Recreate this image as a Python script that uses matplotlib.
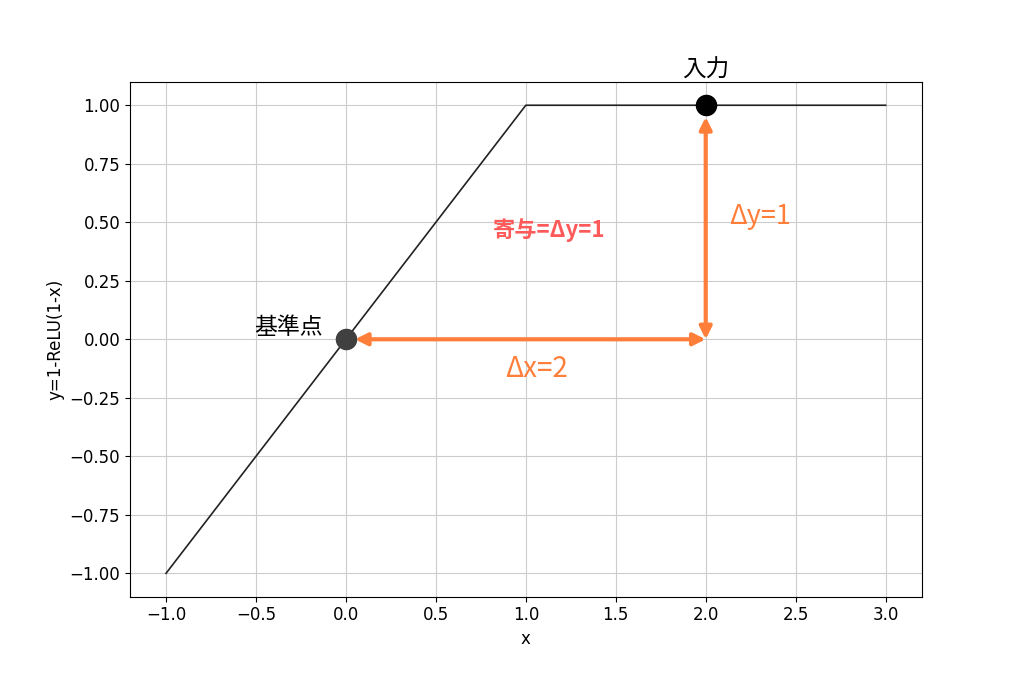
import matplotlib
matplotlib.use('Agg')
import matplotlib.pyplot as plt
import numpy as np

plt.rcParams['font.family'] = ['Noto Sans CJK JP', 'DejaVu Sans']

# data
x_vals = [-1.0, 1.0, 3.0]
y_vals = [-1.0, 1.0, 1.0]
base_pt = (0.0, 0.0)
input_pt = (2.0, 1.0)
xticks = [-1.0, -0.5, 0.0, 0.5, 1.0, 1.5, 2.0, 2.5, 3.0]
yticks = [-1.0, -0.75, -0.5, -0.25, 0.0, 0.25, 0.5, 0.75, 1.0]

orange = '#ff7f3a'

fig, ax = plt.subplots(figsize=(10.24, 6.82), dpi=100)
plt.subplots_adjust(left=0.127, right=0.9, bottom=0.125, top=0.88)

ax.plot(x_vals, y_vals, color='#222222', linewidth=1.2)
ax.plot(base_pt[0], base_pt[1], 'o', color='#404040', markersize=14.5, zorder=5)
ax.plot(input_pt[0], input_pt[1], 'o', color='black', markersize=14.5, zorder=5)

# arrows
ax.annotate('', xy=(base_pt[0] + 0.05, 0), xytext=(input_pt[0], 0),
            arrowprops=dict(arrowstyle='<|-|>', color=orange, lw=3, mutation_scale=18,
                            shrinkA=0, shrinkB=0))
ax.annotate('', xy=(input_pt[0], 0), xytext=(input_pt[0], 0.95),
            arrowprops=dict(arrowstyle='<|-|>', color=orange, lw=3, mutation_scale=18,
                            shrinkA=0, shrinkB=0))

ax.text(-0.32, 0.05, '基準点', fontsize=16.5, ha='center', va='center', color='black')
ax.text(2.0, 1.15, '入力', fontsize=17, ha='center', va='center', color='black')
ax.text(1.13, 0.465, '寄与=Δy=1', fontsize=16, fontweight='bold', ha='center', va='center',
        color='#ff5a5a')
ax.text(2.3, 0.525, 'Δy=1', fontsize=19.5, ha='center', va='center', color=orange)
ax.text(1.06, -0.125, 'Δx=2', fontsize=20, ha='center', va='center', color=orange)

ax.set_xticks(xticks)
ax.set_yticks(yticks)
ax.set_xticklabels([f'{v:.1f}'.replace('-', '\u2212') for v in xticks], fontsize=12,
                   family='DejaVu Sans')
ax.set_yticklabels([f'{v:.2f}'.replace('-', '\u2212') for v in yticks], fontsize=12,
                   family='DejaVu Sans')
ax.set_xlabel('x', fontsize=12, family='DejaVu Sans')
ax.set_ylabel('y=1-ReLU(1-x)', fontsize=12, family='DejaVu Sans')
ax.grid(True, color='#cccccc')
ax.set_axisbelow(True)

plt.savefig('out.png')
